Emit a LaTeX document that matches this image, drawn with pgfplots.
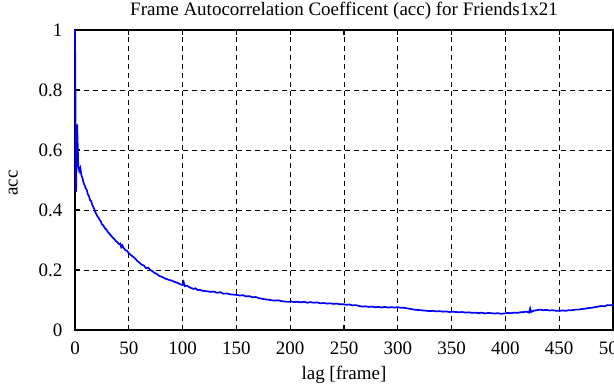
\documentclass[border=0pt]{standalone}
\usepackage{pgfplots}
\pgfplotsset{compat=1.18}
\usepackage{fontspec}
\setmainfont{Liberation Serif}
\pgfplotstableread{
lag acc
0 1.000
1 0.460
2 0.685
3 0.550
4 0.530
5 0.540
6 0.515
7 0.505
8 0.490
9 0.482
10 0.472
11 0.466
12 0.452
13 0.446
14 0.433
15 0.430
16 0.418
17 0.410
18 0.402
19 0.392
20 0.385
21 0.378
22 0.374
23 0.366
24 0.362
25 0.352
26 0.350
27 0.344
28 0.338
29 0.336
30 0.330
31 0.324
32 0.322
33 0.316
34 0.313
35 0.308
36 0.305
37 0.301
38 0.296
39 0.294
40 0.290
41 0.286
42 0.288
43 0.276
44 0.282
45 0.274
46 0.270
47 0.266
48 0.265
49 0.260
50 0.256
52 0.250
54 0.244
56 0.238
58 0.230
60 0.224
62 0.218
64 0.215
66 0.206
68 0.208
70 0.200
72 0.196
74 0.190
76 0.187
78 0.181
80 0.178
82 0.175
84 0.171
86 0.169
88 0.166
90 0.165
92 0.161
94 0.159
96 0.156
98 0.152
100 0.150
101 0.160
102 0.146
104 0.148
106 0.143
108 0.140
110 0.137
112 0.139
114 0.133
116 0.134
118 0.131
120 0.130
123 0.129
126 0.127
129 0.128
132 0.124
135 0.126
138 0.121
141 0.122
144 0.119
147 0.118
150 0.117
153 0.115
156 0.116
159 0.112
162 0.113
165 0.109
168 0.110
171 0.106
174 0.104
177 0.102
180 0.101
183 0.099
186 0.098
189 0.099
192 0.096
195 0.095
198 0.094
201 0.095
204 0.093
207 0.094
210 0.092
213 0.094
216 0.091
219 0.093
222 0.091
225 0.092
228 0.089
231 0.090
234 0.088
237 0.089
240 0.087
243 0.088
246 0.086
249 0.086
252 0.084
255 0.085
258 0.082
261 0.083
264 0.080
267 0.078
270 0.079
273 0.077
276 0.078
279 0.076
282 0.077
285 0.075
288 0.077
291 0.075
294 0.076
297 0.075
300 0.076
303 0.074
306 0.074
309 0.072
312 0.070
315 0.068
318 0.067
321 0.066
324 0.065
327 0.064
330 0.063
333 0.064
336 0.062
339 0.063
342 0.061
345 0.062
348 0.060
351 0.061
354 0.060
357 0.059
360 0.060
363 0.058
366 0.059
369 0.057
372 0.058
375 0.056
378 0.058
381 0.055
384 0.057
387 0.056
390 0.055
393 0.056
396 0.054
399 0.055
402 0.057
405 0.056
408 0.058
411 0.057
414 0.059
417 0.060
420 0.061
422 0.058
423 0.072
424 0.060
426 0.064
429 0.066
432 0.068
435 0.066
438 0.067
441 0.065
444 0.066
447 0.064
450 0.064
453 0.065
456 0.064
459 0.066
462 0.066
465 0.068
468 0.068
471 0.070
474 0.071
477 0.073
480 0.074
483 0.076
486 0.078
489 0.080
492 0.079
495 0.083
498 0.082
500 0.085
}\acctable
\begin{document}
\fontsize{19}{22}\selectfont
\begin{tikzpicture}
\begin{axis}[
  name=ax, at={(0,0)}, anchor=south west,
  width=538pt, height=300pt, scale only axis,
  xmin=0, xmax=500, ymin=0, ymax=1,
  xtick={0,50,...,500}, ytick={0,0.2,0.4,0.6,0.8,1},
  /pgf/number format/assume math mode=true,
  grid=major,
  grid style={black, line width=0.8pt, dash pattern=on 5pt off 4pt},
  axis line style={black, line width=1.5pt},
  tick style={black, line width=1.2pt},
  tick align=inside, major tick length=5pt,
  xtick pos=both, ytick pos=left,
  clip=false,
  title={Frame Autocorrelation Coefficent (acc) for Friends1x21},
  title style={at={(axis description cs:0.5,1)}, anchor=center, yshift=13pt},
  xlabel={lag [frame]},
  xlabel style={at={(axis description cs:0.5,0)}, anchor=center, yshift=-45pt},
  ylabel={acc},
  ylabel style={at={(axis description cs:-0.115,0.49)}, anchor=center, rotate=0},
  xticklabel style={yshift=-5pt},
  yticklabel style={xshift=-6pt},
]
\addplot[blue, line width=1.7pt] table[x=lag, y=acc] {\acctable};
\end{axis}
\pgfresetboundingbox
\useasboundingbox ([shift={(-75pt,-55pt)}]ax.south west) rectangle ([shift={(1pt,30pt)}]ax.north east);
\end{tikzpicture}
\end{document}
